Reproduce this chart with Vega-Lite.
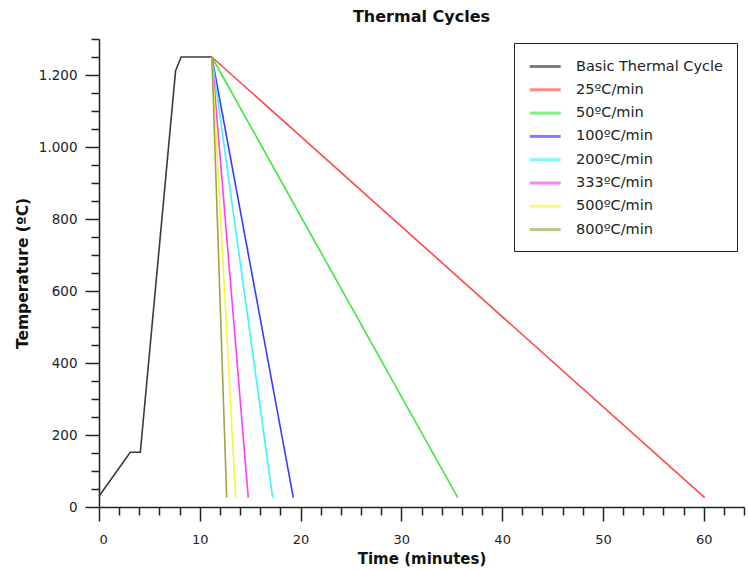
{
  "$schema": "https://vega.github.io/schema/vega-lite/v6.json",
  "width": 645,
  "height": 468,
  "autosize": {"type": "none"},
  "padding": {"left": 99, "top": 39, "right": 4, "bottom": 63},
  "background": "white",
  "title": {"text": "Thermal Cycles", "font": "DejaVu Sans", "fontSize": 16, "fontWeight": "bold", "color": "#111", "anchor": "middle", "offset": 7},
  "config": {"view": {"stroke": null}},
  "data": {"values": [
    {"series": "Basic Thermal Cycle", "t": 0, "temp": 30},
    {"series": "Basic Thermal Cycle", "t": 3.1, "temp": 152},
    {"series": "Basic Thermal Cycle", "t": 4.1, "temp": 152},
    {"series": "Basic Thermal Cycle", "t": 7.6, "temp": 1212},
    {"series": "Basic Thermal Cycle", "t": 8.15, "temp": 1250},
    {"series": "Basic Thermal Cycle", "t": 11.2, "temp": 1250},
    {"series": "25ºC/min", "t": 11.2, "temp": 1250},
    {"series": "25ºC/min", "t": 60.1, "temp": 26},
    {"series": "50ºC/min", "t": 11.2, "temp": 1250},
    {"series": "50ºC/min", "t": 35.6, "temp": 26},
    {"series": "100ºC/min", "t": 11.2, "temp": 1250},
    {"series": "100ºC/min", "t": 19.28, "temp": 26},
    {"series": "200ºC/min", "t": 11.2, "temp": 1250},
    {"series": "200ºC/min", "t": 17.23, "temp": 26},
    {"series": "333ºC/min", "t": 11.2, "temp": 1250},
    {"series": "333ºC/min", "t": 14.81, "temp": 26},
    {"series": "500ºC/min", "t": 11.2, "temp": 1250},
    {"series": "500ºC/min", "t": 13.56, "temp": 26},
    {"series": "800ºC/min", "t": 11.2, "temp": 1250},
    {"series": "800ºC/min", "t": 12.67, "temp": 26}
  ]},
  "mark": {"type": "line", "strokeWidth": 1.6},
  "encoding": {
    "x": {
      "field": "t", "type": "quantitative",
      "scale": {"domain": [0, 64], "nice": false, "zero": false},
      "axis": {
        "title": "Time (minutes)",
        "titleFont": "DejaVu Sans", "titleFontSize": 15, "titleFontWeight": "bold", "titleColor": "#111",
        "titlePadding": 5,
        "values": [0,2,4,6,8,10,12,14,16,18,20,22,24,26,28,30,32,34,36,38,40,42,44,46,48,50,52,54,56,58,60,62,64],
        "labelExpr": "datum.value % 10 === 0 ? format(datum.value, 'd') : ''",
        "labelOverlap": false,
        "labelFont": "DejaVu Sans", "labelFontSize": 13, "labelColor": "#222",
        "labelPadding": 12,
        "tickSize": {"condition": {"test": "datum.value % 10 === 0", "value": 14}, "value": 8},
        "tickColor": "#222", "tickWidth": 1.5,
        "domainColor": "#222", "domainWidth": 1.5,
        "grid": false
      }
    },
    "y": {
      "field": "temp", "type": "quantitative",
      "scale": {"domain": [0, 1300], "nice": false},
      "axis": {
        "title": "Temperature (ºC)",
        "titleFont": "DejaVu Sans", "titleFontSize": 15.5, "titleFontWeight": "bold", "titleColor": "#111",
        "titlePadding": 8,
        "values": [0,50,100,150,200,250,300,350,400,450,500,550,600,650,700,750,800,850,900,950,1000,1050,1100,1150,1200,1250,1300],
        "labelExpr": "datum.value % 200 === 0 ? replace(format(datum.value, ','), ',', '.') : ''",
        "labelOverlap": false,
        "labelFont": "DejaVu Sans", "labelFontSize": 13.5, "labelColor": "#222",
        "labelPadding": 8,
        "tickSize": {"condition": {"test": "datum.value % 200 === 0", "value": 14}, "value": 8},
        "tickColor": "#222", "tickWidth": 1.5,
        "domainColor": "#222", "domainWidth": 1.5,
        "grid": false
      }
    },
    "color": {
      "field": "series", "type": "nominal",
      "scale": {
        "domain": ["Basic Thermal Cycle", "25ºC/min", "50ºC/min", "100ºC/min", "200ºC/min", "333ºC/min", "500ºC/min", "800ºC/min"],
        "range": ["#3a3a3a", "#ff4848", "#3ee83e", "#3a3aff", "#3cf6f6", "#ff3cff", "#f6f63c", "#a3a345"]
      },
      "legend": {
        "title": null,
        "orient": "none",
        "legendX": 415,
        "legendY": 4,
        "direction": "vertical",
        "symbolType": "M-1,0L3,0",
        "symbolSize": 240,
        "symbolStrokeWidth": 3,
        "symbolOpacity": 0.65,
        "labelFont": "DejaVu Sans", "labelFontSize": 14.5, "labelColor": "#222",
        "labelOffset": 29,
        "rowPadding": 7.3,
        "padding": 14,
        "strokeColor": "#222",
        "fillColor": "white",
        "cornerRadius": 0
      }
    }
  }
}
